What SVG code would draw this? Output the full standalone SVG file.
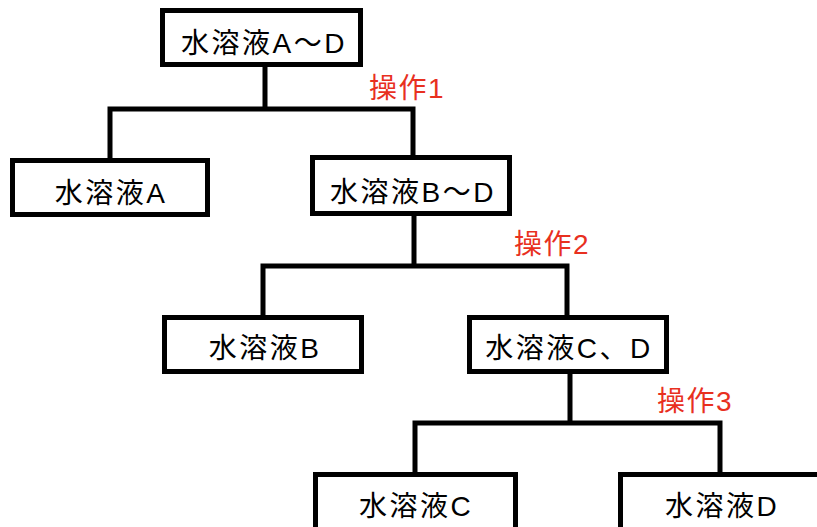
<svg xmlns="http://www.w3.org/2000/svg" width="817" height="527" viewBox="0 0 817 527">
<style>
.box{fill:#fff;stroke:#000;stroke-width:5}
.ln{fill:none;stroke:#000;stroke-width:5;stroke-linecap:square}
.t{font-family:"Liberation Sans","Noto Sans CJK JP",sans-serif;font-size:28px;letter-spacing:2.5px;fill:#000;text-anchor:middle}
.op{font-family:"Liberation Sans","Noto Sans CJK JP",sans-serif;font-size:28px;letter-spacing:1.5px;fill:#e8301f}
</style>
<rect width="817" height="527" fill="#fff"/>
<g id="connectors">
<path class="ln" d="M265 65 V109 M110 109 H413 M110 109 V158 M413 109 V155"/>
<path class="ln" d="M414 215 V266 M263 266 H567 M263 266 V315 M567 266 V315"/>
<path class="ln" d="M570 373 V423 M415 423 H720 M415 423 V472 M720 423 V472"/>
</g>
<g id="n_AD"><rect class="box" x="162.5" y="10.5" width="198" height="54"/><text class="t" x="264" y="53">水溶液A～D</text></g>
<g id="n_A"><rect class="box" x="12.5" y="160.5" width="195" height="54"/><text class="t" x="111" y="203">水溶液A</text></g>
<g id="n_BD"><rect class="box" x="312.5" y="157.5" width="197" height="56"/><text class="t" x="413" y="202">水溶液B～D</text></g>
<g id="n_B"><rect class="box" x="164.5" y="317.5" width="197" height="54"/><text class="t" x="265" y="358">水溶液B</text></g>
<g id="n_CD"><rect class="box" x="469.5" y="317.5" width="197" height="54"/><text class="t" x="569" y="358">水溶液C、D</text></g>
<g id="n_C"><rect class="box" x="315.5" y="474.5" width="200" height="60"/><text class="t" x="416" y="516">水溶液C</text></g>
<g id="n_D"><rect class="box" x="620.5" y="474.5" width="210" height="60"/><text class="t" x="722" y="516">水溶液D</text></g>
<g id="labels">
<text class="op" x="369" y="98">操作1</text>
<text class="op" x="514" y="254">操作2</text>
<text class="op" x="657" y="411">操作3</text>
</g>
</svg>
